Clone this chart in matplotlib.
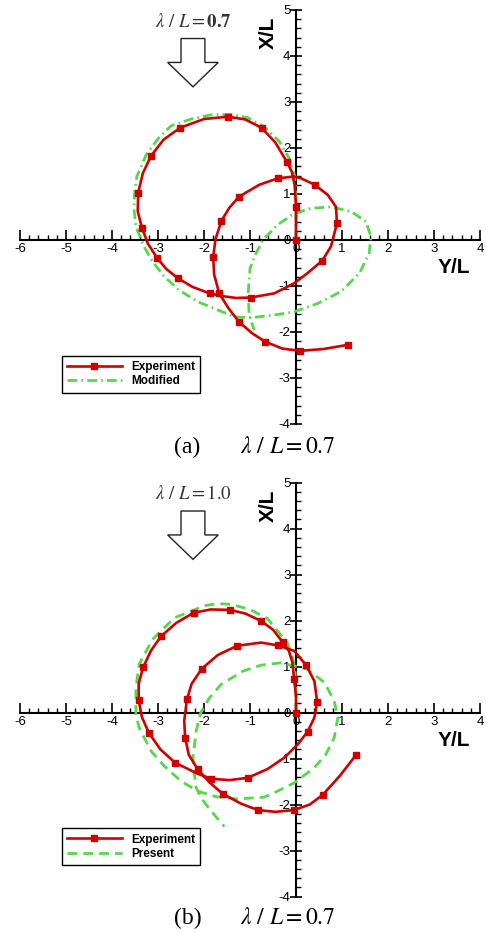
import matplotlib
matplotlib.use('Agg')
import matplotlib.pyplot as plt
from matplotlib.patches import Polygon
from matplotlib.ticker import MultipleLocator
from matplotlib.lines import Line2D

plt.rcParams['mathtext.fontset'] = 'stix'
plt.rcParams['font.family'] = ['Liberation Sans', 'DejaVu Sans']
plt.rcParams['axes.unicode_minus'] = False

# ---------------- data (Y/L horizontal, X/L vertical) ----------------
# Panel (a): experiment path (m = 1 where a square marker is drawn)
a_exp_Y = [0, 0, 0, -0.03, -0.09, -0.20, -0.45, -0.75, -1.10, -1.48, -2.00, -2.52, -2.88, -3.15,
           -3.33, -3.43, -3.44, -3.35, -3.22, -3.02, -2.82, -2.57, -2.25, -1.88, -1.60, -1.30,
           -0.98, -0.47, -0.04, 0.25, 0.57, 0.76, 0.89, 0.87, 0.69, 0.41, 0.11, -0.04, -0.40,
           -0.80, -1.24, -1.45, -1.62, -1.75, -1.80, -1.78, -1.67, -1.47, -1.24, -0.95, -0.67,
           -0.30, 0.09, 0.60, 1.12]
a_exp_X = [0, 0.35, 0.72, 1.20, 1.48, 1.70, 2.12, 2.44, 2.62, 2.68, 2.63, 2.44, 2.18, 1.83,
           1.45, 1.03, 0.62, 0.27, -0.08, -0.39, -0.63, -0.83, -1.02, -1.16, -1.22, -1.26,
           -1.25, -1.16, -0.94, -0.72, -0.45, -0.14, 0.36, 0.72, 0.98, 1.20, 1.34, 1.38, 1.34,
           1.20, 0.94, 0.70, 0.42, 0.02, -0.37, -0.75, -1.16, -1.48, -1.78, -2.03, -2.21,
           -2.36, -2.41, -2.37, -2.28]
a_exp_m = [1, 0, 1, 0, 0, 1, 0, 1, 0, 1, 0, 1, 0, 1,
           0, 1, 0, 1, 0, 1, 0, 1, 0, 1, 0, 0,
           1, 0, 0, 0, 1, 0, 1, 0, 0, 1, 0, 0, 1,
           0, 1, 0, 1, 0, 1, 0, 1, 0, 1, 0, 1,
           0, 1, 0, 1]
# Panel (a): "Modified" simulation
a_sim_Y = [0, 0, 0, -0.03, -0.15, -0.37, -0.69, -1.05, -1.41, -1.85, -2.28, -2.72, -3.00, -3.26,
           -3.46, -3.51, -3.52, -3.48, -3.30, -3.12, -2.86, -2.54, -2.14, -1.70, -1.34, -0.98,
           -0.47, -0.04, 0.47, 0.98, 1.38, 1.59, 1.63, 1.52, 1.20, 0.76, 0.33, -0.04, -0.40,
           -0.72, -0.90, -1.00, -1.04, -1.02, -0.97, -0.91]
a_sim_X = [0, 0.50, 1.00, 1.40, 1.78, 2.15, 2.46, 2.66, 2.73, 2.72, 2.63, 2.48, 2.20, 1.85,
           1.38, 1.01, 0.65, 0.29, -0.15, -0.47, -0.80, -1.09, -1.34, -1.52, -1.67, -1.69,
           -1.63, -1.56, -1.38, -1.12, -0.72, -0.29, 0.07, 0.40, 0.62, 0.72, 0.69, 0.58, 0.33,
           0.00, -0.35, -0.62, -1.16, -1.59, -1.78, -1.96]

# Panel (b): experiment path
b_exp_Y = [0, 0, -0.04, -0.08, -0.16, -0.29, -0.50, -0.76, -1.10, -1.43, -1.85, -2.22, -2.60,
           -2.93, -3.15, -3.32, -3.42, -3.42, -3.35, -3.20, -2.95, -2.63, -2.14, -1.85, -1.45,
           -1.05, -0.62, -0.25, 0.04, 0.25, 0.40, 0.46, 0.40, 0.22, -0.04, -0.40, -0.76, -1.28,
           -1.70, -2.05, -2.27, -2.37, -2.43, -2.41, -2.33, -2.14, -1.88, -1.59, -1.20, -0.83,
           -0.45, -0.04, 0.30, 0.58, 0.95, 1.30]
b_exp_X = [0, 0.35, 0.72, 1.10, 1.35, 1.53, 1.80, 1.99, 2.15, 2.23, 2.24, 2.17, 1.95,
           1.66, 1.35, 0.99, 0.63, 0.27, -0.10, -0.44, -0.80, -1.09, -1.33, -1.44, -1.47,
           -1.42, -1.23, -0.98, -0.69, -0.42, -0.11, 0.23, 0.68, 1.03, 1.34, 1.46, 1.52, 1.45,
           1.25, 0.95, 0.62, 0.29, -0.18, -0.55, -0.92, -1.23, -1.52, -1.77, -1.98, -2.12,
           -2.16, -2.12, -2.00, -1.79, -1.38, -0.93]
b_exp_m = [1, 0, 1, 0, 0, 1, 0, 1, 0, 1, 0, 1, 0,
           1, 0, 1, 0, 1, 0, 1, 0, 1, 0, 1, 0,
           1, 0, 0, 0, 1, 0, 1, 0, 1, 0, 1, 0, 1,
           0, 1, 0, 1, 0, 1, 0, 1, 0, 1, 0, 1,
           0, 1, 0, 1, 0, 1]
# Panel (b): "Present" simulation
b_sim_Y = [0, 0, -0.02, -0.07, -0.18, -0.40, -0.62, -1.00, -1.41, -1.70, -1.99, -2.64, -3.12,
           -3.41, -3.48, -3.48, -3.41, -3.15, -2.86, -2.50, -2.14, -1.74, -1.27, -0.69, -0.40,
           -0.04, 0.40, 0.65, 0.83, 0.91, 0.83, 0.62, 0.25, -0.33, -0.76, -1.15, -1.63, -1.88,
           -2.07, -2.17, -2.24, -2.21, -2.17, -2.07, -1.88, -1.56]
b_sim_X = [0, 0.50, 0.90, 1.19, 1.50, 1.77, 2.04, 2.24, 2.35, 2.37, 2.32, 2.06, 1.59,
           1.05, 0.54, -0.04, -0.33, -0.84, -1.17, -1.49, -1.71, -1.83, -1.88, -1.84, -1.71,
           -1.53, -1.20, -0.91, -0.55, -0.11, 0.25, 0.65, 0.94, 1.08, 1.03, 0.90, 0.61, 0.32,
           0.00, -0.40, -0.98, -1.34, -1.63, -1.85, -2.10, -2.48]

x_ticks = [-6, -5, -4, -3, -2, -1, 0, 1, 2, 3, 4]
y_ticks = [-4, -3, -2, -1, 0, 1, 2, 3, 4, 5]

RED = '#D00000'
GREEN = '#55D84B'

fig = plt.figure(figsize=(4.86, 9.32), dpi=100)


def panel(rect, eY, eX, em, sY, sX, sim_label, sim_dashes, wave_text):
    ax = fig.add_axes(rect)
    ax.set_xlim(-6, 4)
    ax.set_ylim(-4, 5)
    for s in ['top', 'right']:
        ax.spines[s].set_visible(False)
    ax.spines['left'].set_position('zero')
    ax.spines['bottom'].set_position('zero')
    for s in ['left', 'bottom']:
        ax.spines[s].set_linewidth(1.5)
    ax.set_xticks(x_ticks)
    ax.set_yticks(y_ticks)
    ax.set_xticklabels([str(t) for t in x_ticks])
    ax.set_yticklabels([str(t) for t in y_ticks])
    ax.xaxis.set_minor_locator(MultipleLocator(0.2))
    ax.yaxis.set_minor_locator(MultipleLocator(0.2))
    ax.tick_params(axis='x', which='major', direction='in', length=7, width=1.2,
                   pad=2.5, labelsize=9.5)
    ax.tick_params(axis='x', which='minor', direction='in', length=3.5, width=1.0)
    ax.tick_params(axis='y', which='major', direction='inout', length=8, width=1.2,
                   pad=0, labelsize=9.5)
    ax.tick_params(axis='y', which='minor', direction='in', length=3.5, width=1.0)
    ax.patch.set_alpha(0)

    ax.plot(sY, sX, color=GREEN, lw=2.0, dashes=sim_dashes, zorder=3)
    marks = [i for i, m in enumerate(em) if m]
    ax.plot(eY, eX, color=RED, lw=1.9, marker='s', ms=4.3, markevery=marks, zorder=4)

    ax.text(-0.61, 4.5, 'X/L', rotation=90, ha='center', va='center',
            fontsize=15, fontweight='bold')
    ax.text(3.43, -0.6, 'Y/L', ha='center', va='center',
            fontsize=15, fontweight='bold')

    # incoming-wave annotation
    ax.text(-2.24, 4.74, wave_text, ha='center', va='center', fontsize=13.5,
            color='#333333')
    cx, sw, hw = -2.24, 0.26, 0.55
    top, neck, tip = 4.38, 3.86, 3.33
    arrow = Polygon([(cx - sw, top), (cx + sw, top), (cx + sw, neck), (cx + hw, neck),
                     (cx, tip), (cx - hw, neck), (cx - sw, neck)], closed=True,
                    facecolor='white', edgecolor='#222222', lw=1.0, zorder=5)
    ax.add_patch(arrow)

    h_exp = Line2D([], [], color=RED, lw=1.9, marker='s', ms=4.3)
    h_sim = Line2D([], [], color=GREEN, lw=2.0, dashes=sim_dashes)
    leg = ax.legend([h_exp, h_sim], ['Experiment', sim_label], loc='upper left',
                    bbox_to_anchor=(0.0913, 0.165), bbox_transform=ax.transAxes,
                    frameon=True, fancybox=False, edgecolor='black', framealpha=1,
                    prop={'weight': 'bold', 'size': 8.5}, handlelength=4.6,
                    handletextpad=0.8, borderpad=0.45, labelspacing=0.2,
                    borderaxespad=0)
    leg.get_frame().set_linewidth(1.0)
    return ax


panel([20 / 486, 1 - 424 / 932, 460 / 486, 414 / 932], a_exp_Y, a_exp_X, a_exp_m,
      a_sim_Y, a_sim_X, 'Modified', (3.5, 1.5, 0.6, 1.5),
      r'$\lambda\ /\ L = \mathbf{0.7}$')
panel([20 / 486, 1 - 896.5 / 932, 460 / 486, 414 / 932], b_exp_Y, b_exp_X, b_exp_m,
      b_sim_Y, b_sim_X, 'Present', (3.5, 2.2),
      r'$\lambda\ /\ L = 1.0$')

for tag, ypx in [('(a)', 447), ('(b)', 918)]:
    fig.text(174 / 486, 1 - ypx / 932, tag, ha='left', va='center', fontsize=17,
             family=['Liberation Serif', 'DejaVu Serif'])
    fig.text(240 / 486, 1 - ypx / 932, r'$\lambda\ /\ L = 0.7$', ha='left', va='center',
             fontsize=17)

fig.savefig('out.png', dpi=100)
